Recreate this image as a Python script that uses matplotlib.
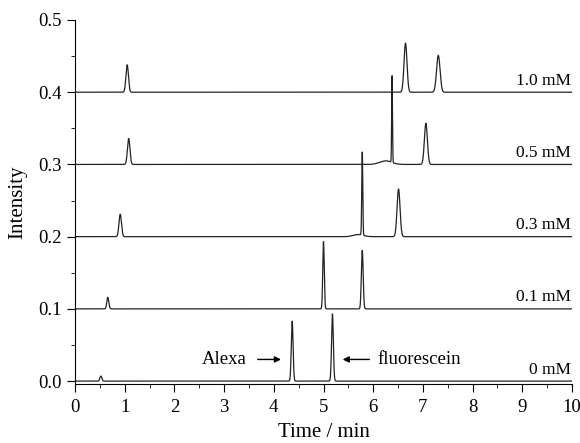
import numpy as np
import matplotlib
matplotlib.use("Agg")
import matplotlib.pyplot as plt
from matplotlib.ticker import MultipleLocator

plt.rcParams['font.family'] = ['Liberation Serif', 'DejaVu Serif']

# Trace labels and baseline offsets
labels = ["0 mM", "0.1 mM", "0.3 mM", "0.5 mM", "1.0 mM"]
offsets = [0.0, 0.1, 0.2, 0.3, 0.4]

# Peaks per trace: (time, height, width)
peak_times = [
    [0.52, 4.37, 5.18],
    [0.66, 5.00, 5.78],
    [0.91, 5.78, 6.51, 5.70],
    [1.08, 6.38, 7.06, 6.25],
    [1.05, 6.65, 7.31],
]
peak_heights = [
    [0.007, 0.083, 0.093],
    [0.016, 0.093, 0.081],
    [0.031, 0.115, 0.066, 0.003],
    [0.036, 0.120, 0.057, 0.005],
    [0.038, 0.068, 0.051],
]
peak_widths = [
    [0.02, 0.018, 0.018],
    [0.02, 0.015, 0.018],
    [0.025, 0.010, 0.030, 0.10],
    [0.025, 0.008, 0.030, 0.12],
    [0.025, 0.030, 0.035],
]

t = np.linspace(0, 10, 4001)

fig = plt.figure(figsize=(5.8, 4.43), dpi=100)
ax = fig.add_axes([75/580, 1 - 384/443, (572-75)/580, (384-20)/443])

for lab, off, pts, phs, pws in zip(labels, offsets, peak_times, peak_heights, peak_widths):
    y = np.full_like(t, off)
    for p, h, w in zip(pts, phs, pws):
        y = y + h * np.exp(-0.5 * ((t - p) / w) ** 2)
    ax.plot(t, y, color='#222222', lw=0.9)
    ax.text(9.98, off + 0.005, lab, ha='right', va='bottom', fontsize=12.5)

ax.annotate("", xy=(4.2, 0.030), xytext=(3.62, 0.030),
            arrowprops=dict(arrowstyle='-|>', color='black', lw=1.0, mutation_scale=9))
ax.text(3.45, 0.030, "Alexa", ha='right', va='center', fontsize=13.5)
ax.annotate("", xy=(5.33, 0.030), xytext=(5.98, 0.030),
            arrowprops=dict(arrowstyle='-|>', color='black', lw=1.0, mutation_scale=9))
ax.text(6.08, 0.030, "fluorescein", ha='left', va='center', fontsize=13.5)

ax.set_xlim(0, 10)
ax.set_ylim(-0.004, 0.5)
ax.xaxis.set_major_locator(MultipleLocator(1))
ax.xaxis.set_minor_locator(MultipleLocator(0.5))
ax.yaxis.set_major_locator(MultipleLocator(0.1))
ax.yaxis.set_minor_locator(MultipleLocator(0.05))
ax.yaxis.set_major_formatter(matplotlib.ticker.FormatStrFormatter('%.1f'))
ax.spines['top'].set_visible(False)
ax.spines['right'].set_visible(False)
ax.tick_params(which='major', direction='out', length=5.5, labelsize=13.5, pad=4)
ax.tick_params(axis='x', which='major', pad=5)
ax.tick_params(which='minor', direction='out', length=3)
ax.set_xlabel("Time / min", fontsize=15, labelpad=5)
ax.set_ylabel("Intensity", fontsize=15, labelpad=8)

fig.savefig("out.png", dpi=100)
